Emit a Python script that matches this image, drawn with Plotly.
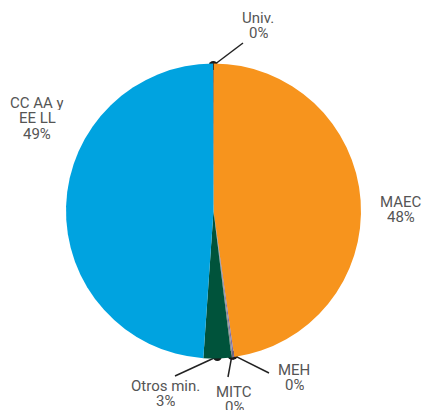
import math
import plotly.graph_objects as go

labels = ["MAEC", "MEH", "MITC", "Otros min.", "CC AA y EE LL", "Univ."]
values = [47.8, 0.15, 0.15, 3.05, 48.9, 0.05]
pct_text = ["48%", "0%", "0%", "3%", "49%", "0%"]
label_lines = [["MAEC"], ["MEH"], ["MITC"], ["Otros min."], ["CC AA y", "EE LL"], ["Univ."]]
colors = ["#F7941D", "#7B6FA8", "#8C8C8C", "#00533B", "#00A3E0", "#1A1A1A"]

W, H = 423, 410
cx, cy, r = 213.5, 211, 147.5

# first text line centre (px) and leader line end
label_pos = [(401, 201), (294, 369), (234, 391), (165, 385), (37, 102), (258, 17)]
line_end = [None, (269, 373), (228, 377), (175, 376), None, (243, 43)]
line_gap = 15.5

fig = go.Figure()
fig.add_trace(go.Pie(
    labels=labels, values=values, sort=False, direction="clockwise",
    marker=dict(colors=colors, line=dict(width=0)),
    textinfo="none", hoverinfo="label+percent", showlegend=False,
    domain=dict(x=[(cx - r) / W, (cx + r) / W], y=[1 - (cy + r) / H, 1 - (cy - r) / H]),
))

# slice mid points, just inside the rim
total = sum(values)
cum = 0
dots_x, dots_y = [], []
for i, v in enumerate(values):
    mid = (cum + v / 2) / total * 2 * math.pi
    cum += v
    px, py = cx + (r - 2) * math.sin(mid), cy - (r - 2) * math.cos(mid)
    if line_end[i] is not None:
        dots_x.append(px)
        dots_y.append(py)
        fig.add_trace(go.Scatter(x=[px, line_end[i][0]], y=[py, line_end[i][1]], mode="lines",
                                 line=dict(color="#222", width=1.5), hoverinfo="skip", showlegend=False))
    for k, t in enumerate(label_lines[i] + [pct_text[i]]):
        fig.add_annotation(x=label_pos[i][0], y=label_pos[i][1] + k * line_gap, xref="x", yref="y",
                           text=t, showarrow=False, height=15, borderpad=0,
                           font=dict(family="Roboto", size=15, color="#555"))

fig.add_trace(go.Scatter(x=dots_x, y=dots_y, mode="markers",
                         marker=dict(color="#1A1A1A", size=9), hoverinfo="skip", showlegend=False))

fig.update_layout(
    width=W, height=H, margin=dict(l=0, r=0, t=0, b=0),
    paper_bgcolor="white", plot_bgcolor="rgba(0,0,0,0)",
    xaxis=dict(range=[0, W], visible=False, fixedrange=True),
    yaxis=dict(range=[H, 0], visible=False, fixedrange=True),
)
fig.write_html("out.html", config={"displayModeBar": False},
               post_script="document.body.style.margin='0';document.body.style.overflow='hidden';")
